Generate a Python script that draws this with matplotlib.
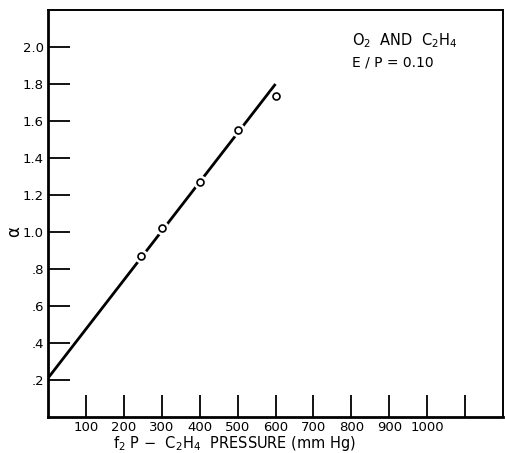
import matplotlib
matplotlib.use("Agg")
import matplotlib.pyplot as plt

# Data
pressure = [245, 300, 400, 500, 600]
alpha = [0.87, 1.02, 1.27, 1.55, 1.735]
fit_x = [0, 600]
fit_y = [0.21, 1.80]

y_ticks = [0.2, 0.4, 0.6, 0.8, 1.0, 1.2, 1.4, 1.6, 1.8, 2.0]
y_tick_labels = [".2", ".4", ".6", ".8", "1.0", "1.2", "1.4", "1.6", "1.8", "2.0"]
x_ticks = [100, 200, 300, 400, 500, 600, 700, 800, 900, 1000, 1100]
x_tick_labels = ["100", "200", "300", "400", "500", "600", "700", "800", "900", "1000", ""]

plt.rcParams['font.family'] = ['DejaVu Sans']

fig = plt.figure(figsize=(5.05, 4.53), dpi=100)
ax = fig.add_axes([48/505, 36/453, 455/505, 407/453])

ax.plot(fit_x, fit_y, color='black', lw=2.0, solid_capstyle='butt', zorder=2)
# white halo to break line around the markers
ax.plot(pressure, alpha, linestyle='none', marker='o', ms=9, mfc='white', mec='white', zorder=3)
ax.plot(pressure, alpha, linestyle='none', marker='o', ms=5, mfc='white', mec='black', mew=1.2, zorder=4)

ax.set_xlim(0, 1200)
ax.set_ylim(0, 2.2)
ax.set_xticks(x_ticks)
ax.set_xticklabels(x_tick_labels, fontsize=9.5)
ax.set_yticks(y_ticks)
ax.set_yticklabels(y_tick_labels, fontsize=9.5)
ax.tick_params(axis='both', direction='in', length=16, width=1.3, color='black')
ax.tick_params(axis='x', pad=3)
ax.tick_params(axis='y', pad=3)

for side in ['left', 'bottom']:
    ax.spines[side].set_linewidth(2.0)
for side in ['top', 'right']:
    ax.spines[side].set_linewidth(1.4)

ax.set_ylabel("α", fontsize=12, rotation=90, va='center')
ax.yaxis.set_label_coords(-0.075, 0.455)
ax.set_xlabel(r"f$_2$ P $-$  C$_2$H$_4$  PRESSURE (mm Hg)", fontsize=10.5, va='center')
ax.xaxis.set_label_coords(0.41, -0.064)

ax.text(0.668, 0.925, r"O$_2$  AND  C$_2$H$_4$", transform=ax.transAxes, fontsize=10.5, va='center', ha='left')
ax.text(0.668, 0.872, "E / P = 0.10", transform=ax.transAxes, fontsize=10, va='center', ha='left')

fig.savefig("out.png", dpi=100)
